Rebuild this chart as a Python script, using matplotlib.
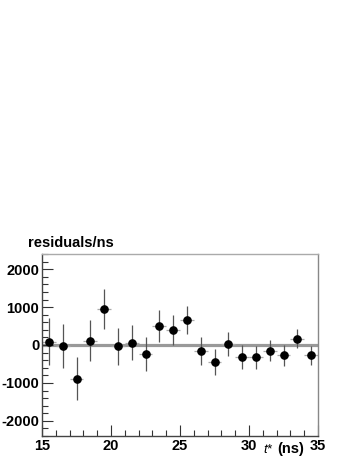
import matplotlib
matplotlib.use("Agg")
import matplotlib.pyplot as plt
import numpy as np
from matplotlib.ticker import MultipleLocator

plt.rcParams['font.family'] = ['Liberation Sans', 'DejaVu Sans']
plt.rcParams['axes.unicode_minus'] = False

# residuals per bin (bin centres in ns)
t_bins = [15.5, 16.5, 17.5, 18.5, 19.5, 20.5, 21.5, 22.5, 23.5, 24.5,
          25.5, 26.5, 27.5, 28.5, 29.5, 30.5, 31.5, 32.5, 33.5, 34.5]
resid = [90, -25, -890, 115, 950, -35, 60, -240, 490, 395,
         660, -160, -455, 30, -315, -325, -150, -275, 170, -275]
resid_err = [610, 580, 565, 535, 515, 495, 460, 445, 420, 390,
             370, 365, 340, 325, 315, 300, 280, 275, 250, 245]
bin_halfwidth = 0.5

fig = plt.figure(figsize=(3.54, 4.58), dpi=100)
ax = fig.add_axes([42/354, 1-436/458, 276/354, 182/458])

ax.plot([15, 34.85], [0, 0], color='#999999', lw=2.3, zorder=1)

# horizontal bin bars
ax.errorbar(t_bins, resid, xerr=bin_halfwidth, fmt='none',
            ecolor='#aaaaaa', elinewidth=0.9, capsize=0, zorder=2)
# vertical error bars
ax.errorbar(t_bins, resid, yerr=resid_err, fmt='o', color='black',
            markersize=5.2, ecolor='#555555', elinewidth=0.9, capsize=0, zorder=3)

ax.set_xlim(15, 35)
ax.set_ylim(-2400, 2400)
ax.xaxis.set_major_locator(MultipleLocator(5))
ax.xaxis.set_minor_locator(MultipleLocator(1))
ax.yaxis.set_major_locator(MultipleLocator(1000))
ax.yaxis.set_minor_locator(MultipleLocator(200))
ax.tick_params(which='both', direction='in', top=False, right=False,
               color='#333333', width=0.8)
ax.tick_params(which='major', length=8, labelsize=10.5, pad=2)
ax.tick_params(which='minor', length=4)
for lab in ax.get_xticklabels() + ax.get_yticklabels():
    lab.set_fontweight('bold')

ax.spines['left'].set_color('#444444')
ax.spines['bottom'].set_color('#444444')
ax.spines['top'].set_color('#aaaaaa')
ax.spines['right'].set_color('#888888')
for s in ax.spines.values():
    s.set_linewidth(1.0)

fig.text(28/354, 1-243/458, 'residuals/ns', fontsize=10.5, fontweight='bold',
         ha='left', va='center')
fig.text(263/354, 1-450/458, 't*', fontsize=9.5, fontstyle='italic',
         ha='left', va='center')
fig.text(277/354, 1-449.5/458, '(ns)', fontsize=10.5, fontweight='bold',
         ha='left', va='center')

fig.savefig('out.png', dpi=100)
